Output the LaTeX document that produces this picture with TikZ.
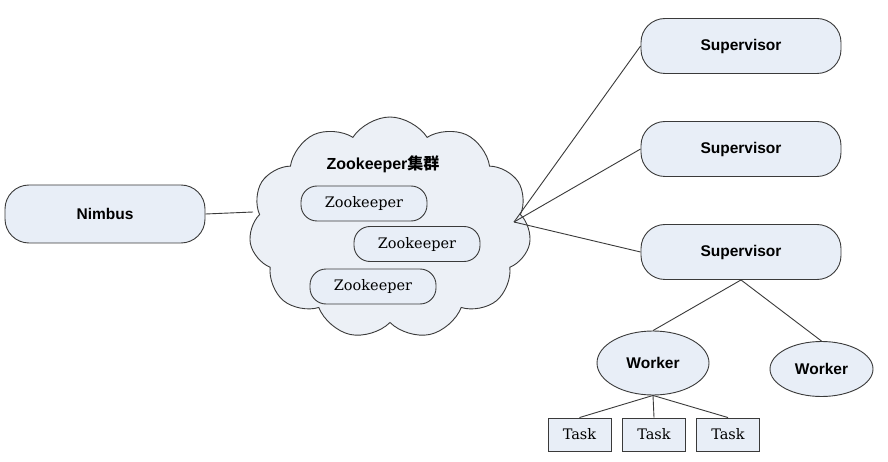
\documentclass[tikz,border=0pt]{standalone}
\usepackage{fontspec}
\setmainfont{Liberation Sans}
\newfontfamily\zkfont{DejaVu Serif}
\newfontfamily\cjk{Noto Sans CJK SC}
\usetikzlibrary{shapes.geometric,shapes.symbols}
\definecolor{boxfill}{HTML}{E8EEF7}
\definecolor{cloudfill}{HTML}{ECF0F6}
\definecolor{edgecol}{HTML}{3A3A3A}
\begin{document}
\begin{tikzpicture}[x=1pt,y=-1pt,
  base/.style={draw=edgecol,line width=0.9pt,fill=boxfill,inner sep=0pt},
  bigpill/.style={base,rectangle,rounded corners=24pt,minimum width=200pt,minimum height=56pt,
     font=\bfseries\fontsize{15.5}{17}\selectfont},
  zkpill/.style={base,rectangle,rounded corners=16pt,minimum width=126pt,minimum height=35pt,
     font=\zkfont\fontsize{14.5}{16}\selectfont},
  workerell/.style={base,ellipse,font=\bfseries\fontsize{15.5}{17}\selectfont},
  taskbox/.style={base,rectangle,minimum width=63pt,minimum height=33pt,
     font=\zkfont\fontsize{14.5}{16}\selectfont},
  conn/.style={draw=edgecol,line width=0.9pt}]
\useasboundingbox (0,0) rectangle (888,462);
\fill[white] (0,0) rectangle (888,462);

% cloud
\node[cloud,cloud puffs=11,cloud puff arc=115,aspect=1.26,minimum width=282pt,minimum height=222pt,
      draw=edgecol,fill=cloudfill,line width=0.9pt,inner sep=0pt] (zk) at (390,228) {};
\node[font=\bfseries\fontsize{16}{18}\selectfont] (zt) at (383,164) {Zookeeper{\cjk\bfseries 集群}};
\node[zkpill] (z1) at (364,203.5) {Zookeeper};
\node[zkpill] (z2) at (417,244) {Zookeeper};
\node[zkpill] (z3) at (373,286.5) {Zookeeper};

% nimbus
\node[bigpill,minimum height=58pt] (nim) at (105,214) {Nimbus};

% supervisors
\node[bigpill,minimum height=55pt] (s1) at (741,46) {Supervisor};
\node[bigpill,minimum height=55pt] (s2) at (741,149) {Supervisor};
\node[bigpill,minimum height=55pt] (s3) at (741,252) {Supervisor};

% workers
\node[workerell,minimum width=112pt,minimum height=64pt] (w1) at (653,363) {Worker};
\node[workerell,minimum width=103pt,minimum height=55pt] (w2) at (821.5,369) {Worker};

% tasks
\node[taskbox] (t1) at (579.5,434.5) {Task};
\node[taskbox] (t2) at (654,434.5) {Task};
\node[taskbox] (t3) at (728,434.5) {Task};

% connection points on the cloud outline
\coordinate (hubR) at (514,222);
\coordinate (hubL) at (253,212);

\draw[conn] (nim.east) -- (hubL);
\draw[conn] (hubR) -- (s1.west);
\draw[conn] (hubR) -- (s2.west);
\draw[conn] (hubR) -- (s3.west);
\draw[conn] (s3.south) -- (w1.north);
\draw[conn] (s3.south) -- (w2.north);
\draw[conn] (w1.south) -- (t1.north);
\draw[conn] (w1.south) -- (t2.north);
\draw[conn] (w1.south) -- (t3.north);
\end{tikzpicture}
\end{document}
